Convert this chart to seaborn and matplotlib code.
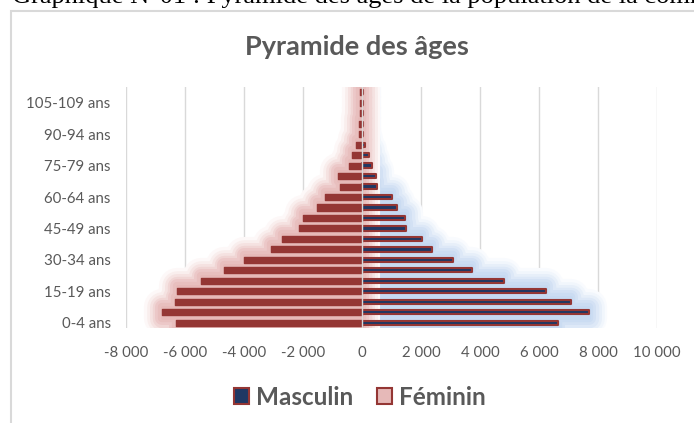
import matplotlib
matplotlib.use("Agg")
import matplotlib.pyplot as plt
from matplotlib.patches import Patch, Rectangle
from matplotlib.colors import to_rgb
import seaborn as sns
import pandas as pd

# Tranches d'âge (de bas en haut) et effectifs
ages = ["0-4 ans", "5-9 ans", "10-14 ans", "15-19 ans", "20-24 ans", "25-29 ans",
        "30-34 ans", "35-39 ans", "40-44 ans", "45-49 ans", "50-54 ans", "55-59 ans",
        "60-64 ans", "65-69 ans", "70-74 ans", "75-79 ans", "80-84 ans", "85-89 ans",
        "90-94 ans", "95-99 ans", "100-104 ans", "105-109 ans", "110 ans et +"]
feminin = [-6300, -6770, -6340, -6280, -5460, -4670, -4010, -3090, -2710, -2140,
           -1990, -1515, -1250, -750, -800, -430, -350, -200, -110, -90, -70, -60, -60]
masculin = [6640, 7700, 7080, 6230, 4800, 3740, 3090, 2360, 2020, 1490,
            1460, 1170, 1030, 520, 490, 330, 250, 110, 50, 40, 30, 30, 30]
xticks = [-8000, -6000, -4000, -2000, 0, 2000, 4000, 6000, 8000, 10000]

ROUGE = "#943634"
BLEU = "#1F3864"
ROSE = "#E6B9B8"
BLEU_CLAIR = "#C6D9F1"
GRIS = "#595959"

df = pd.DataFrame({"age": ages, "Féminin": feminin, "Masculin": masculin})
order = ages[::-1]


def melange(c, t):
    # mélange entre le blanc (t=0) et la couleur c (t=1)
    r, g, b = to_rgb(c)
    return (1 - t + t * r, 1 - t + t * g, 1 - t + t * b)


def barres(ax, col, **kw):
    n0 = len(ax.patches)
    sns.barplot(data=df, x=col, y="age", order=order, orient="h", saturation=1,
                errorbar=None, ax=ax, **kw)
    for p in ax.patches[n0:]:
        p.set_joinstyle("round")
        p.set_capstyle("round")


plt.rcParams["font.family"] = ["Lato", "DejaVu Sans"]
fig = plt.figure(figsize=(6.94, 4.23), dpi=100)
ax = fig.add_axes([126 / 694, 95 / 423, 531 / 694, 241 / 423])

# halo flou : couches opaques, de la plus large (claire) à la plus étroite (foncée)
couches = [(26, 0.1), (22, 0.25), (18, 0.42), (14, 0.6), (10, 0.78), (6, 0.92), (2, 1.0)]
for lw, t in couches:
    c = melange(BLEU_CLAIR, t)
    barres(ax, "Masculin", color=c, width=1.0, edgecolor=c, linewidth=lw, zorder=1)
for lw, t in couches:
    c = melange(ROSE, t)
    barres(ax, "Féminin", color=c, width=1.0, edgecolor=c, linewidth=lw, zorder=2)

barres(ax, "Féminin", color=ROUGE, width=0.58, edgecolor=ROUGE, linewidth=1.0, zorder=3)
barres(ax, "Masculin", color=BLEU, width=0.4, edgecolor=ROUGE, linewidth=1.5, zorder=3)

ax.axvline(0, color="#D9D9D9", lw=1.0, zorder=5)
for x in xticks:
    ax.axvline(x, color="#D9D9D9", lw=1.0, zorder=0)

ax.set_xlim(-8000, 10000)
ax.set_ylim(len(ages) - 0.5, -0.5)
ax.set_xticks(xticks)
ax.set_xticklabels([f"{v:,}".replace(",", " ") for v in xticks])
pos = [len(ages) - 1 - i for i in range(0, len(ages), 3)]
ax.set_yticks(pos)
ax.set_yticklabels([ages[i] for i in range(0, len(ages), 3)])
ax.set_xlabel("")
ax.set_ylabel("")
ax.tick_params(axis="both", length=0, colors=GRIS, labelsize=10.8)
ax.tick_params(axis="y", pad=11)
ax.tick_params(axis="x", pad=13)
for s in ax.spines.values():
    s.set_visible(False)
ax.grid(False)

fig.text(0.514, 1 - 47 / 423, "Pyramide des âges", ha="center", va="center",
         fontsize=19.5, fontweight="bold", color=GRIS)

handles = [Patch(facecolor=BLEU, edgecolor=ROUGE, linewidth=1.5, label="Masculin"),
           Patch(facecolor=ROSE, edgecolor=ROUGE, linewidth=1.5, label="Féminin")]
fig.legend(handles=handles, loc="center", bbox_to_anchor=(360 / 694, 1 - 397 / 423),
           ncol=2, frameon=False, handlelength=0.6, handleheight=0.6,
           handletextpad=0.3, columnspacing=1.0,
           prop={"size": 17.5, "weight": "bold"}, labelcolor=GRIS)

# cadre du graphique et légende du document
fig.add_artist(Rectangle((11 / 694, -0.05), 2, 1.05 - 11 / 423, transform=fig.transFigure,
                         fill=False, edgecolor="#D9D9D9", lw=1.5))
fig.text(12 / 694, 1 - 3 / 423, "Graphique N°01 : Pyramide des âges de la population de la commune",
         family="Liberation Serif", fontsize=19, va="baseline", ha="left", color="black")

fig.savefig("out.png", dpi=100)
